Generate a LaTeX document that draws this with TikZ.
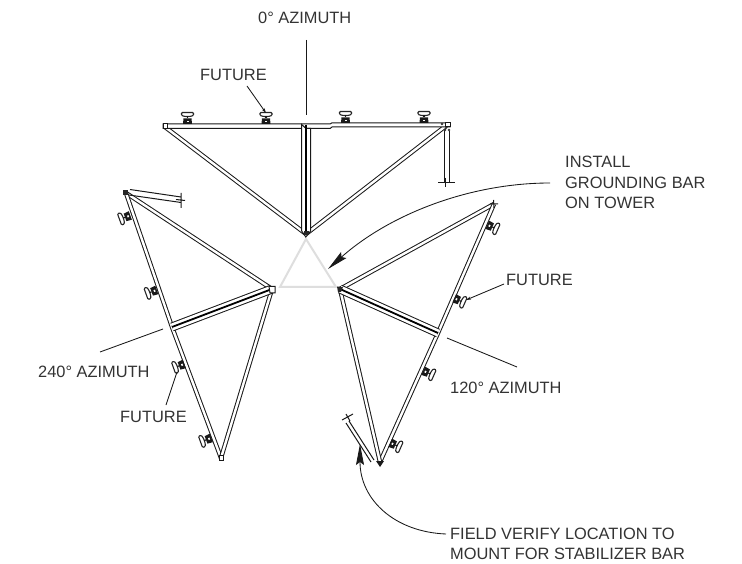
\documentclass[tikz,border=0pt]{standalone}
\usepackage{fontspec}
\setmainfont{Liberation Sans}
\usetikzlibrary{arrows.meta}
\tikzset{
 lab/.style={font=\fontsize{16.4}{20.6}\selectfont,text=black!80,inner sep=0pt,align=left},
 leader/.style={draw=black!90,line width=.85pt},
 tiparrow/.style={-{Stealth[length=21pt,width=8pt,inset=3pt]}},
 barthin/.style={draw=black!90,line width=1pt,double=white,double distance=2.4pt},
 barwide/.style={draw=black!90,line width=1pt,double=white,double distance=7pt},
 barcore/.style={draw=black,line width=1.8pt},
 tower/.style={draw=black!13,line width=2pt},
 wire/.style={draw=black!90,line width=1pt},
 clamp/.pic={
  \fill[black!90] (-4,-2.6) -- (4,-2.6) -- (4.5,3) -- (-4.5,3) -- cycle;
  \fill[white] (-1,-.2) rectangle (1,1.4);
  \draw[black!85,line width=1.1pt,fill=white,rounded corners=1pt] (-6,-8.5) -- (6,-8.5) -- (6,-5.5) -- (2.5,-4.5) -- (-2.5,-4.5) -- (-6,-5.5) -- cycle;
  \draw[black!90,line width=1.2pt] (0,-4.5) -- (0,-2.6);
 }
}
\begin{document}
\begin{tikzpicture}[x=1pt,y=-1pt]
\useasboundingbox (0,0) rectangle (742,564);
\fill[white] (0,0) rectangle (742,564);
% named points
\coordinate (towerA) at (306,239);
\coordinate (towerL) at (280,287);
\coordinate (towerR) at (336,287);
\coordinate (hub0) at (306,234);
\coordinate (endL0) at (165,127);
\coordinate (endR0) at (447,125);
\coordinate (hubL) at (272,289);
\coordinate (topL) at (126,193);
\coordinate (botL) at (221,458);
\coordinate (midL) at (172,327);
\coordinate (hubR) at (340,289);
\coordinate (topR) at (494,204);
\coordinate (botR) at (380,462);
\coordinate (midR) at (438,333);
% tower
\draw[tower] (towerA) -- (towerL) -- (towerR) -- cycle;
% top sector
\draw[barthin] (endL0) -- (hub0);
\draw[barthin] (endR0) -- (hub0);
\filldraw[wire,fill=white] (163,124) -- (330,124) -- (332,122.8) -- (450,122.8) -- (450,127) -- (332,127) -- (330,128.5) -- (163,128.5) -- cycle;
\draw[wire,fill=white] (163,124) rectangle (167,128.5);
\draw[wire,fill=white] (445.5,122.8) rectangle (450,127);
\filldraw[wire,fill=white] (301.7,124.5) -- (301.7,231) -- (305.8,237) -- (310.7,231) -- (310.7,128.5) -- (306,128.5) -- cycle;
\draw[barcore] (306,125) -- (306,233);
\fill[black!85] (303.5,231) rectangle (308.5,235);
\draw[wire] (444.5,130) -- (444.5,183) (449,131) -- (449,183) (438,183) -- (455,183) (445,178) -- (445,187);
\fill[black!80] (442,124) circle (1.4pt) (445,130) circle (1.4pt) (449,130) circle (1.4pt) (446,128) circle (1.2pt);
% left sector
\draw[barthin] (hubL) -- (topL);
\draw[barthin] (topL) -- (midL) -- (botL);
\draw[barthin] (hubL) -- (botL);
\draw[barwide] (midL) -- (hubL);
\draw[barcore] (midL) -- (hubL);
\draw[wire,fill=white] (269,286.5) -- (275,286.5) -- (275,293) -- (270,293) -- cycle;
\fill[black!85] (123,190) rectangle (128,195);
\draw[wire,fill=white] (219,455.5) rectangle (223,460.5);
\draw[wire] (130,189.5) -- (181,197) (129,195) -- (181,202.5) (181,193) -- (181,208) (176,199.5) -- (185,200.5);
% right sector
\draw[barthin] (hubR) -- (topR);
\draw[barthin] (topR) -- (midR) -- (botR);
\draw[barthin] (hubR) -- (botR);
\draw[barwide] (midR) -- (hubR);
\draw[barcore] (midR) -- (hubR);
\fill[black!85] (337,286.5) -- (343,287) -- (341,292) -- (338,292) -- cycle;
\fill[black!90] (376,461) -- (384,461) -- (380,467) -- cycle;
\draw[wire] (374,460) -- (349,421) (371,462) -- (346,423) (342,420) -- (353,414) (346,414) -- (350,421);
\draw[wire] (493.5,200) -- (494,208) (490,204) -- (498,204);
% clamps
\foreach \p/\a in {187.5/121,266/121,345.5/120,424/120}{\path (\p,\a) pic {clamp};}
\path (127.5,216.5) pic[rotate=110] {clamp};
\path (154,291) pic[rotate=110] {clamp};
\path (181.5,365) pic[rotate=110] {clamp};
\path (208.5,439) pic[rotate=110] {clamp};
\path (490,226) pic[rotate=-114] {clamp};
\path (457,299.5) pic[rotate=-114] {clamp};
\path (426,372) pic[rotate=-114] {clamp};
\path (393,444) pic[rotate=-114] {clamp};
% texts
\node[lab,anchor=base west] (az0) at (258,24) {0° AZIMUTH};
\node[lab,anchor=base west] (futT) at (200,81) {FUTURE};
\node[lab,anchor=base west] (inst1) at (565,168) {INSTALL};
\node[lab,anchor=base west] (inst2) at (565,189) {GROUNDING BAR};
\node[lab,anchor=base west] (inst3) at (565,209) {ON TOWER};
\node[lab,anchor=base west] (futR) at (506,286) {FUTURE};
\node[lab,anchor=base west] (az120) at (450,393) {120° AZIMUTH};
\node[lab,anchor=base west] (az240) at (38,377) {240° AZIMUTH};
\node[lab,anchor=base west] (futL) at (120,422) {FUTURE};
\node[lab,anchor=base west] (field1) at (450,539) {FIELD VERIFY LOCATION TO};
\node[lab,anchor=base west] (field2) at (450,559) {MOUNT FOR STABILIZER BAR};
% leaders
\coordinate (az0end) at (306,115);
\coordinate (az0top) at (306,40);
\draw[leader] (az0top) -- (az0end);
\coordinate (fT1) at (247,86);
\coordinate (fT2) at (266,113);
\draw[leader,-{Stealth[length=5pt,width=3pt]}] (fT1) -- (fT2);
\coordinate (fR1) at (504,284);
\coordinate (fR2) at (466,300);
\draw[leader,-{Stealth[length=5pt,width=3pt]}] (fR1) -- (fR2);
\coordinate (fL1) at (166,405);
\coordinate (fL2) at (177,372);
\draw[leader] (fL1) -- (fL2);
\coordinate (l2401) at (100,352);
\coordinate (l2402) at (163,329);
\draw[leader] (l2401) -- (l2402);
\coordinate (l1201) at (447,338);
\coordinate (l1202) at (517,367);
\draw[leader] (l1201) -- (l1202);
\coordinate (instA) at (550,183);
\coordinate (instB) at (328,269);
\draw[leader,tiparrow] (instA) .. controls (470,183) and (390,214) .. (instB);
\coordinate (fieldA) at (446,534);
\coordinate (fieldB) at (360,444);
\draw[leader,tiparrow] (fieldA) .. controls (395,532) and (360,500) .. (fieldB);
\end{tikzpicture}
\end{document}
